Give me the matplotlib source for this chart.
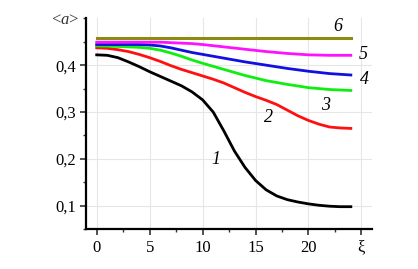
import matplotlib
matplotlib.use("Agg")
import matplotlib.pyplot as plt
from matplotlib.ticker import MultipleLocator

# data
xi_1 = [0, 1, 2, 3, 4, 5, 6, 7, 8, 9, 10, 11, 12, 13, 14, 15, 16, 17, 18, 19, 20, 21, 22, 23, 24]
a_1 = [0.422, 0.421, 0.416, 0.407, 0.397, 0.386, 0.376, 0.366, 0.356, 0.343, 0.326, 0.300, 0.260,
       0.217, 0.182, 0.154, 0.134, 0.121, 0.113, 0.108, 0.104, 0.101, 0.099, 0.098, 0.098]

xi_2 = [0, 1, 2, 3, 4, 5, 6, 7, 8, 9, 10, 11, 12, 13, 14, 15, 16, 17, 18, 19, 20, 21, 22, 23, 24]
a_2 = [0.437, 0.436, 0.433, 0.429, 0.423, 0.416, 0.408, 0.399, 0.391, 0.384, 0.377, 0.370, 0.362,
       0.352, 0.342, 0.333, 0.325, 0.316, 0.304, 0.292, 0.282, 0.274, 0.268, 0.266, 0.265]

xi = [0, 2, 4, 5, 6, 7, 8, 9, 10, 12, 14, 16, 18, 20, 22, 24]
a_3 = [0.441, 0.440, 0.438, 0.436, 0.432, 0.426, 0.419, 0.411, 0.404, 0.391, 0.378, 0.367,
       0.359, 0.352, 0.348, 0.346]
a_4 = [0.444, 0.444, 0.444, 0.443, 0.441, 0.437, 0.432, 0.427, 0.423, 0.415, 0.407, 0.400,
       0.393, 0.387, 0.382, 0.379]
a_5 = [0.449, 0.449, 0.449, 0.449, 0.449, 0.448, 0.447, 0.446, 0.444, 0.439, 0.434, 0.429,
       0.425, 0.422, 0.421, 0.421]
a_6 = [0.457] * len(xi)

curve_labels = ["1", "2", "3", "4", "5", "6"]
label_pos = [(11.3, 0.198), (16.2, 0.288), (21.6, 0.314), (25.3, 0.369), (25.2, 0.423), (22.8, 0.482)]

x_ticks = [0, 5, 10, 15, 20]
y_ticks = [0.1, 0.2, 0.3, 0.4]
y_ticklabels = ["0,1", "0,2", "0,3", "0,4"]

plt.rcParams["font.family"] = "Liberation Serif"
plt.rcParams["mathtext.fontset"] = "custom"
plt.rcParams["mathtext.rm"] = "Liberation Serif"
plt.rcParams["mathtext.it"] = "Liberation Serif:italic"

fig = plt.figure(figsize=(4.18, 2.69), dpi=100)
ax = fig.add_axes([0.206, 0.148, 0.684, 0.784])

ax.plot(xi_1, a_1, color="black", lw=2)
ax.plot(xi_2, a_2, color="#ff1010", lw=2)
ax.plot(xi, a_3, color="#10ee10", lw=2)
ax.plot(xi, a_4, color="#1010e0", lw=2)
ax.plot(xi, a_5, color="#ff10ff", lw=2)
ax.plot(xi, a_6, color="#8c8a10", lw=2.2)

for lab, (lx, ly) in zip(curve_labels, label_pos):
    ax.text(lx, ly, lab, style="italic", fontsize=13, ha="center", va="center")

ax.set_xlim(-1, 26)
ax.set_ylim(0.05, 0.5)
ax.set_xticks(x_ticks + [25])
ax.set_xticklabels([str(t) for t in x_ticks] + ["\u03be"])
ax.set_yticks(y_ticks)
ax.set_yticklabels(y_ticklabels)
ax.xaxis.set_minor_locator(MultipleLocator(2.5))
ax.yaxis.set_minor_locator(MultipleLocator(0.05))
ax.tick_params(which="major", length=4, width=1.2, labelsize=12, color="#333333")
ax.tick_params(which="minor", length=2.5, width=1.0, color="#333333")
ax.grid(True, color="#e6e6e6", lw=0.8)
ax.set_axisbelow(True)

for s in ["top", "right"]:
    ax.spines[s].set_visible(False)
for s in ["left", "bottom"]:
    ax.spines[s].set_linewidth(1.6)
    ax.spines[s].set_color("black")

# axis name at the top of the y axis
fig.text(0.155, 0.925, "<$a$>", fontsize=12, ha="center", va="center", color="#333333")

fig.savefig("out.png", dpi=100)
